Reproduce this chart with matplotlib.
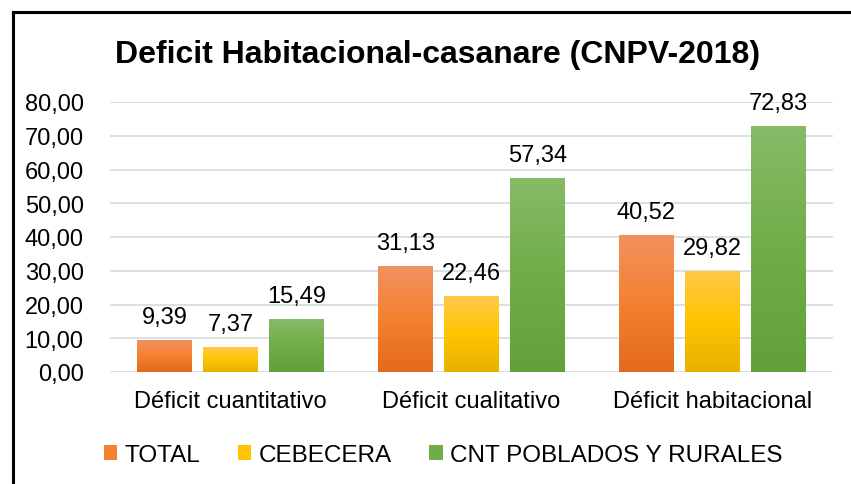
import numpy as np
import matplotlib.pyplot as plt
from matplotlib.patches import Rectangle
from matplotlib.colors import LinearSegmentedColormap

plt.rcParams['font.family'] = ['Liberation Sans', 'DejaVu Sans']

categorias = ['Déficit cuantitativo', 'Déficit cualitativo', 'Déficit habitacional']
series = ['TOTAL', 'CEBECERA', 'CNT POBLADOS Y RURALES']
total = [9.39, 31.13, 40.52]
cabecera = [7.37, 22.46, 29.82]
rurales = [15.49, 57.34, 72.83]

# degradados (abajo -> arriba)
colores = [
    ['#E46A1C', '#F4812F', '#F19160'],
    ['#E6B200', '#FFC400', '#FFC94A'],
    ['#62A13A', '#70AD47', '#88BB68'],
]

fig = plt.figure(figsize=(8.51, 4.85), dpi=100)
ax = fig.add_axes([110 / 851, 112 / 485, 723 / 851, 270 / 485])

x = np.arange(len(categorias))
ancho = 0.228
paso = 0.274
valores = [total, cabecera, rurales]

grad = np.linspace(0, 1, 256).reshape(-1, 1)
for i, vals in enumerate(valores):
    cmap = LinearSegmentedColormap.from_list('g%d' % i, colores[i])
    for j, v in enumerate(vals):
        xc = x[j] + (i - 1) * paso
        ax.imshow(grad, cmap=cmap, origin='lower', aspect='auto',
                  extent=[xc - ancho / 2, xc + ancho / 2, 0, v], zorder=3)
        ax.annotate(('%.2f' % v).replace('.', ','), (xc, v), xytext=(0, 9),
                    textcoords='offset points', ha='center', va='bottom',
                    fontsize=17, color='#000000', annotation_clip=False)

ax.set_xlim(-0.5, 2.5)
ax.set_ylim(0, 80)
ax.set_yticks(np.arange(0, 81, 10))
ax.set_yticklabels([('%.2f' % t).replace('.', ',') for t in np.arange(0, 81, 10)])
ax.set_xticks(x)
ax.set_xticklabels(categorias)
ax.tick_params(axis='both', length=0, labelsize=17)
ax.tick_params(axis='y', pad=19)
ax.tick_params(axis='x', pad=13)
ax.grid(axis='y', color='#D9DCE1', linewidth=1.3, zorder=0)
ax.set_axisbelow(True)
for s in ax.spines.values():
    s.set_visible(False)

fig.text(438 / 851, 1 - 55 / 485, 'Deficit Habitacional-casanare (CNPV-2018)',
         ha='center', va='center', fontsize=23, fontweight='bold')

# leyenda
handles = []
for i, nombre in enumerate(series):
    handles.append(Rectangle((0, 0), 1, 1, facecolor=colores[i][1], label=nombre))
fig.legend(handles=handles, loc='center', bbox_to_anchor=(443 / 851, 1 - 456 / 485),
           ncol=3, frameon=False, fontsize=17.5, handlelength=0.55, handleheight=0.55,
           handletextpad=0.3, columnspacing=1.55)

# borde
fig.add_artist(plt.Line2D([12.5 / 851, 12.5 / 851], [0, 1 - 13 / 485], color='black',
                          linewidth=2.2, transform=fig.transFigure))
fig.add_artist(plt.Line2D([12.5 / 851, 1], [1 - 13 / 485, 1 - 13 / 485], color='black',
                          linewidth=2.2, transform=fig.transFigure))

fig.savefig('out.png', dpi=100)
